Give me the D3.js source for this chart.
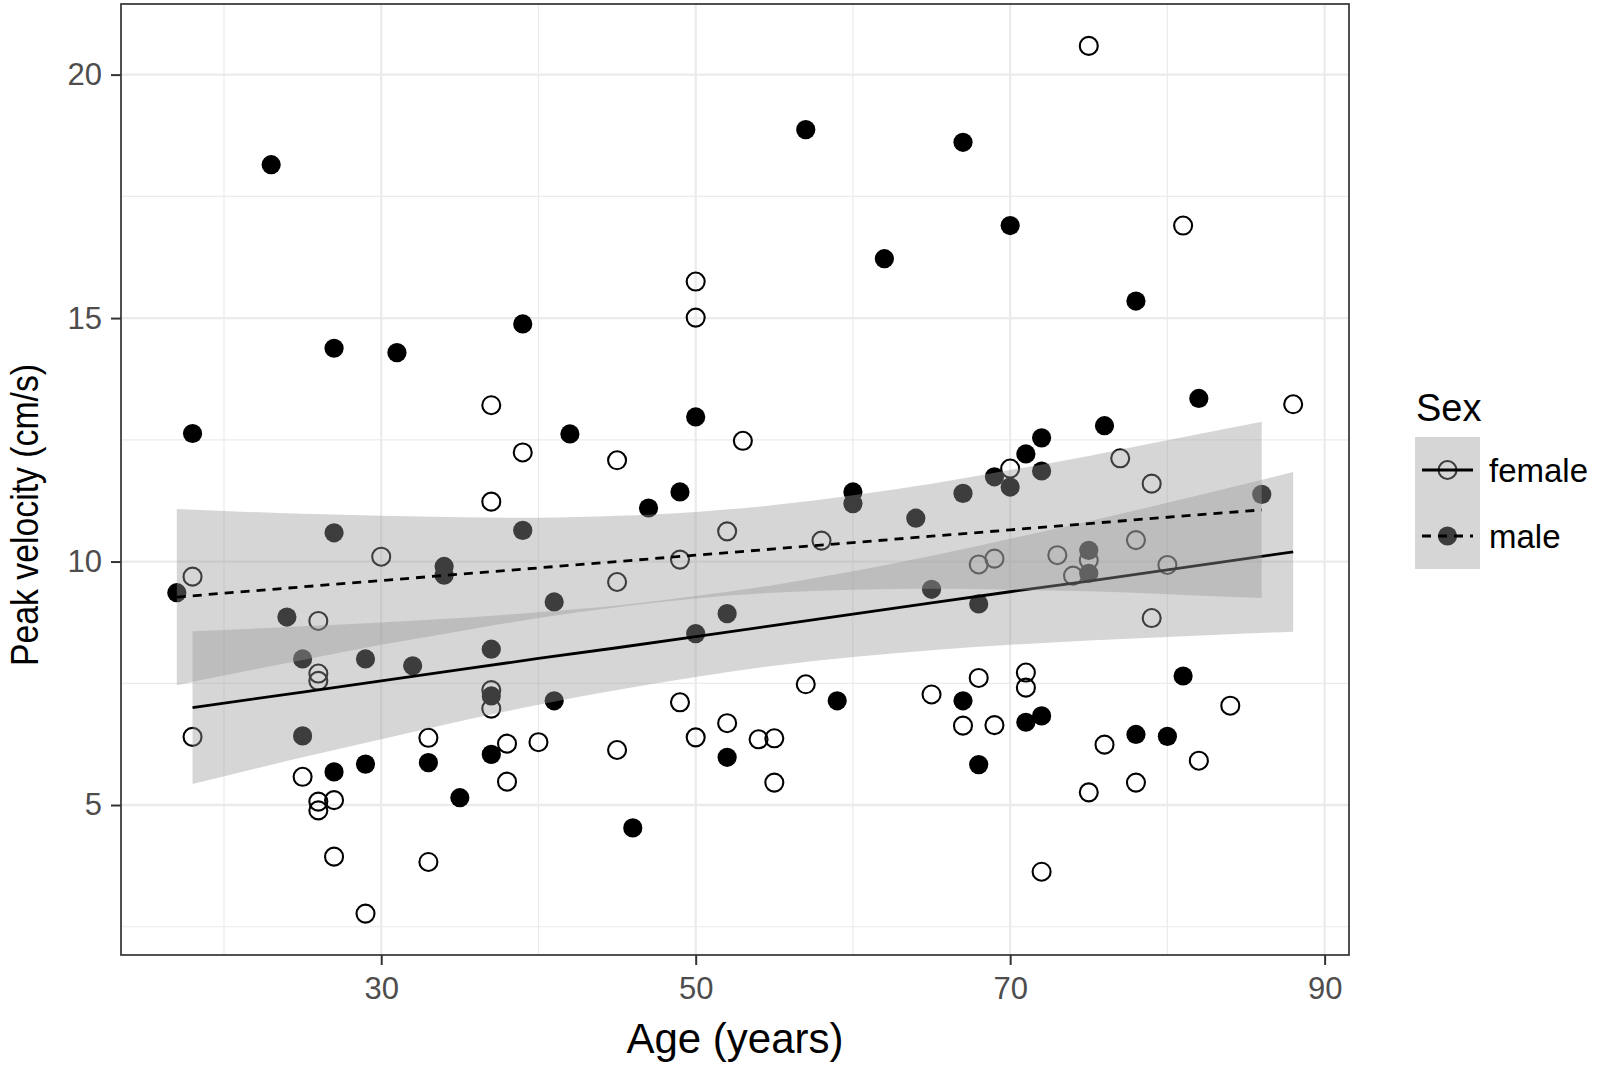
<!DOCTYPE html>
<html>
<head>
<meta charset="utf-8">
<script src="https://cdn.jsdelivr.net/npm/d3@7"></script>
<style>
  body { margin: 0; background: #fff; }
  text { font-family: "Liberation Sans", Arial, sans-serif; }
</style>
</head>
<body>
<svg id="chart" width="1606" height="1067"></svg>
<script>
// Observations (age in years, peak velocity in cm/s)
var femaleAge = [37, 39, 50, 50, 53, 45, 75, 81, 88, 77, 37, 30, 18, 26, 26, 26, 37, 37, 18, 33, 38, 25, 38, 27, 26, 26, 27, 33, 29,
                 52, 58, 49, 45, 57, 49, 52, 40, 50, 54, 55, 45, 55, 70, 79, 78, 75, 74, 73, 69, 68, 80, 79, 68, 71, 71, 65, 84,
                 67, 69, 76, 82, 78, 75, 72];
var femaleVel = [13.21, 12.24, 15.75, 15.01, 12.48, 12.08, 20.59, 16.9, 13.23, 12.12, 11.23, 10.1, 9.69, 8.78, 7.7, 7.55, 7.36, 6.98,
                 6.4, 6.38, 6.26, 5.58, 5.48, 5.1, 5.07, 4.89, 3.94, 3.83, 2.77, 10.62, 10.43, 10.04, 9.58, 7.48, 7.11, 6.68, 6.29,
                 6.39, 6.35, 6.37, 6.13, 5.46, 11.91, 11.6, 10.44, 10.03, 9.71, 10.13, 10.06, 9.94, 9.93, 8.84, 7.61, 7.72, 7.41,
                 7.27, 7.04, 6.63, 6.64, 6.24, 5.91, 5.46, 5.26, 3.63];

var maleAge = [23, 27, 31, 18, 39, 57, 62, 50, 42, 67, 70, 78, 82, 76, 72, 71, 27, 17, 34, 34, 39, 24, 25, 29, 32, 37, 37, 25, 37,
               29, 33, 27, 35, 49, 47, 60, 60, 64, 41, 52, 50, 41, 59, 52, 46, 69, 70, 72, 67, 86, 75, 75, 65, 68, 81, 67, 72,
               71, 78, 80, 68];
var maleVel = [18.15, 14.38, 14.29, 12.63, 14.88, 18.87, 16.22, 12.97, 12.62, 18.61, 16.9, 15.35, 13.35, 12.79, 12.54, 12.21, 10.59,
               9.36, 9.9, 9.72, 10.64, 8.86, 8.0, 8.0, 7.86, 8.2, 7.24, 6.42, 6.04, 5.84, 5.87, 5.68, 5.15, 11.43, 11.1, 11.43,
               11.19, 10.89, 9.17, 8.93, 8.52, 7.14, 7.14, 5.98, 4.53, 11.74, 11.53, 11.86, 11.4, 11.38, 10.23, 9.76, 9.43, 9.13,
               7.65, 7.14, 6.83, 6.7, 6.45, 6.41, 5.83];

// Fitted lines and 95% bands
var femaleFitAge = [18, 25, 30, 35, 40, 45, 50, 55, 60, 65, 70, 75, 80, 85, 88];
var femaleFit = [7.00, 7.32, 7.55, 7.78, 8.01, 8.23, 8.46, 8.69, 8.92, 9.15, 9.38, 9.60, 9.83, 10.06, 10.20];
var femaleLo = [5.43, 5.98, 6.35, 6.72, 7.06, 7.36, 7.63, 7.86, 8.04, 8.18, 8.29, 8.38, 8.45, 8.52, 8.56];
var femaleHi = [8.57, 8.67, 8.75, 8.84, 8.96, 9.10, 9.29, 9.52, 9.80, 10.12, 10.47, 10.83, 11.21, 11.60, 11.84];

var maleFitAge = [17, 20, 25, 30, 35, 40, 45, 50, 55, 60, 65, 70, 75, 80, 86];
var maleFit = [9.27, 9.35, 9.48, 9.61, 9.74, 9.87, 10.00, 10.13, 10.26, 10.39, 10.52, 10.65, 10.78, 10.91, 11.06];
var maleLo = [7.46, 7.66, 7.98, 8.29, 8.57, 8.84, 9.06, 9.24, 9.36, 9.42, 9.44, 9.42, 9.39, 9.33, 9.25];
var maleHi = [11.08, 11.04, 10.98, 10.94, 10.91, 10.90, 10.94, 11.02, 11.16, 11.36, 11.60, 11.88, 12.17, 12.49, 12.87];

// Axis ticks
var xMajor = [30, 50, 70, 90];
var xMinor = [20, 40, 60, 80];
var yMajor = [5, 10, 15, 20];
var yMinor = [2.5, 7.5, 12.5, 17.5];

var sexLabels = ["female", "male"];

// Layout
var p_left = 121;
var p_right = 1349;
var p_top = 4;
var p_bot = 955;

var svg = d3.select("#chart");

var x = d3.scaleLinear().domain([13.45, 91.55]).range([p_left, p_right]);
var y = d3.scaleLinear().domain([1.92, 21.45]).range([p_bot, p_top]);

svg.append("rect").attr("width", 1606).attr("height", 1067).attr("fill", "#fff");

// Grid
var grid = svg.append("g");
grid.selectAll(".xmin").data(xMinor).enter().append("line")
    .attr("x1", d => x(d)).attr("x2", d => x(d)).attr("y1", p_top).attr("y2", p_bot)
    .attr("stroke", "#ebebeb").attr("stroke-width", 1.2);
grid.selectAll(".ymin").data(yMinor).enter().append("line")
    .attr("y1", d => y(d)).attr("y2", d => y(d)).attr("x1", p_left).attr("x2", p_right)
    .attr("stroke", "#ebebeb").attr("stroke-width", 1.2);
grid.selectAll(".xmaj").data(xMajor).enter().append("line")
    .attr("x1", d => x(d)).attr("x2", d => x(d)).attr("y1", p_top).attr("y2", p_bot)
    .attr("stroke", "#ebebeb").attr("stroke-width", 2.3);
grid.selectAll(".ymaj").data(yMajor).enter().append("line")
    .attr("y1", d => y(d)).attr("y2", d => y(d)).attr("x1", p_left).attr("x2", p_right)
    .attr("stroke", "#ebebeb").attr("stroke-width", 2.3);

// Points
var females = femaleAge.map((a, i) => ({age: a, vel: femaleVel[i]}));
var males = maleAge.map((a, i) => ({age: a, vel: maleVel[i]}));

svg.append("g").selectAll("circle").data(females).enter().append("circle")
    .attr("cx", d => x(d.age)).attr("cy", d => y(d.vel)).attr("r", 9)
    .attr("fill", "none").attr("stroke", "#000").attr("stroke-width", 2.1);
svg.append("g").selectAll("circle").data(males).enter().append("circle")
    .attr("cx", d => x(d.age)).attr("cy", d => y(d.vel)).attr("r", 9.6)
    .attr("fill", "#000");

// Smooths: ribbon then line, per group
var area = d3.area().x(d => x(d.age)).y0(d => y(d.lo)).y1(d => y(d.hi)).curve(d3.curveMonotoneX);
var line = d3.line().x(d => x(d.age)).y(d => y(d.fit));

function drawSmooth(ages, fit, lo, hi, dash)
{
    var rows = ages.map((a, i) => ({age: a, fit: fit[i], lo: lo[i], hi: hi[i]}));
    svg.append("path").datum(rows).attr("d", area)
        .attr("fill", "#999999").attr("fill-opacity", 0.4);
    svg.append("path").datum(rows).attr("d", line)
        .attr("fill", "none").attr("stroke", "#000").attr("stroke-width", 2.8)
        .attr("stroke-dasharray", dash);
}
drawSmooth(femaleFitAge, femaleFit, femaleLo, femaleHi, null);
drawSmooth(maleFitAge, maleFit, maleLo, maleHi, "9,7");

// Panel border
svg.append("rect").attr("x", p_left).attr("y", p_top)
    .attr("width", p_right - p_left).attr("height", p_bot - p_top)
    .attr("fill", "none").attr("stroke", "#333").attr("stroke-width", 1.7);

// Axes
var xAxis = svg.append("g")
    .attr("transform", "translate(0," + p_bot + ")")
    .call(d3.axisBottom(x).tickValues(xMajor).tickSize(10).tickPadding(12).tickSizeOuter(0));
var yAxis = svg.append("g")
    .attr("transform", "translate(" + p_left + ",0)")
    .call(d3.axisLeft(y).tickValues(yMajor).tickSize(10).tickPadding(9).tickSizeOuter(0));
[xAxis, yAxis].forEach(function(g) {
    g.select(".domain").remove();
    g.selectAll(".tick line").attr("stroke", "#333").attr("stroke-width", 2);
    g.selectAll(".tick text").attr("fill", "#4d4d4d")
        .style("font-size", "31px").style("font-family", "'Liberation Sans', Arial, sans-serif");
});

// Axis titles
svg.append("text")
    .attr("x", (p_left + p_right) / 2).attr("y", 1053)
    .attr("text-anchor", "middle").style("font-size", "42px")
    .text("Age (years)");
svg.append("text")
    .attr("transform", "translate(38,515) rotate(-90)")
    .attr("text-anchor", "middle").style("font-size", "39px")
    .attr("textLength", 302).attr("lengthAdjust", "spacingAndGlyphs")
    .text("Peak velocity (cm/s)");

// Legend
var legend = svg.append("g");
legend.append("text").attr("x", 1416).attr("y", 421).style("font-size", "38px").text("Sex");
var key_left = 1415;
var key_w = 65;
var key_h = 66;
var key_top = 437;
sexLabels.forEach(function(lab, i) {
    var cy = key_top + key_h * i + key_h / 2;
    var k = legend.append("g");
    if (lab == "female")
        k.append("circle").attr("cx", key_left + key_w / 2).attr("cy", cy).attr("r", 9)
            .attr("fill", "none").attr("stroke", "#000").attr("stroke-width", 2.1);
    else
        k.append("circle").attr("cx", key_left + key_w / 2).attr("cy", cy).attr("r", 9.6).attr("fill", "#000");
    k.append("rect").attr("x", key_left).attr("y", key_top + key_h * i)
        .attr("width", key_w).attr("height", key_h)
        .attr("fill", "#999999").attr("fill-opacity", 0.4);
    k.append("line").attr("x1", key_left + 7).attr("x2", key_left + key_w - 7)
        .attr("y1", cy).attr("y2", cy)
        .attr("stroke", "#000").attr("stroke-width", 2.8)
        .attr("stroke-dasharray", lab == "male" ? "9,7" : null);
    legend.append("text").attr("x", 1489).attr("y", cy + 12)
        .style("font-size", "33px").text(lab);
});
</script>
</body>
</html>
